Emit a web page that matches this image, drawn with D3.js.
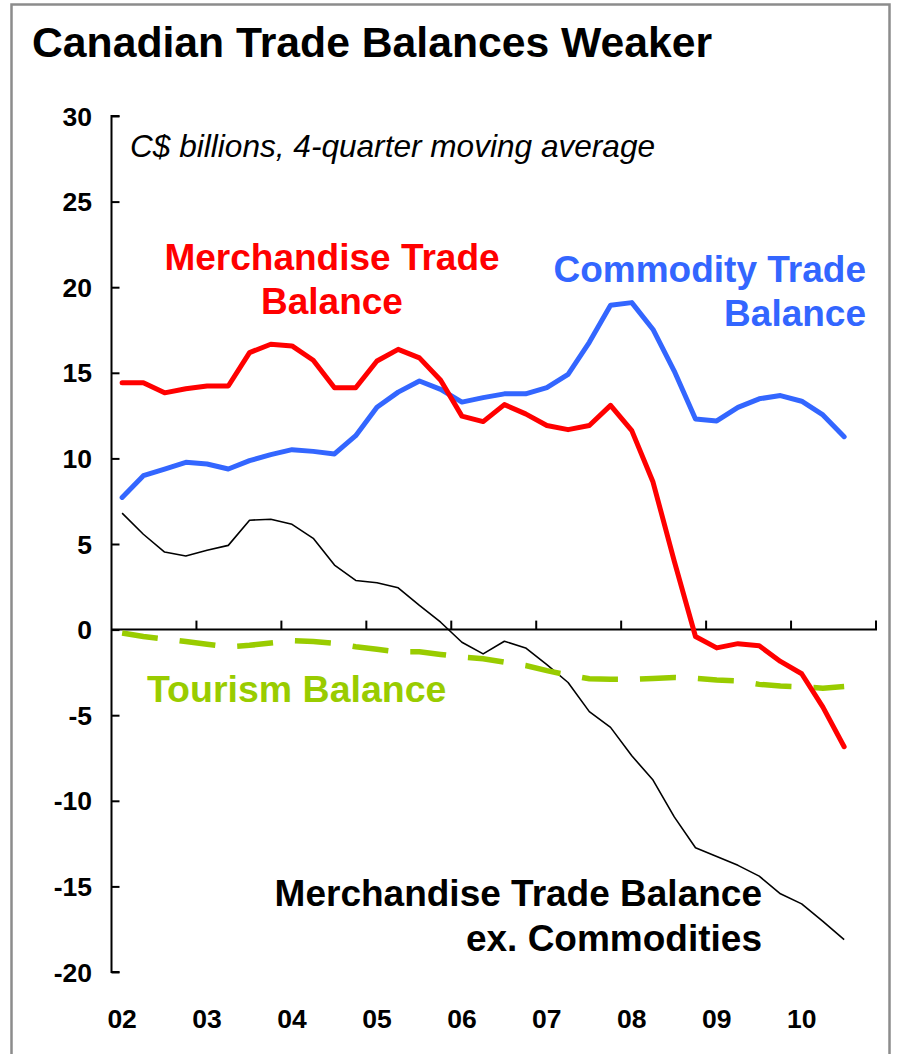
<!DOCTYPE html>
<html>
<head>
<meta charset="utf-8">
<script src="https://cdn.jsdelivr.net/npm/d3@7/dist/d3.min.js"></script>
<style>
  html, body { margin: 0; padding: 0; background: #fff; }
  svg { display: block; }
  text { font-family: "Liberation Sans", Arial, sans-serif; }
</style>
</head>
<body>
<svg id="chart" width="898" height="1054"></svg>
<script>
// ---- Data (C$ billions, 4-quarter moving average), quarterly 2002Q1 .. 2010Q3 ----
const years = ["02", "03", "04", "05", "06", "07", "08", "09", "10"];
const quarterNames = ["Q1", "Q2", "Q3", "Q4"];
const yTicks = [-20, -15, -10, -5, 0, 5, 10, 15, 20, 25, 30];

const merchandise = [14.42, 14.42, 13.83, 14.07, 14.23, 14.23, 16.18, 16.67, 16.57, 15.73,
  14.13, 14.13, 15.69, 16.37, 15.87, 14.56, 12.47, 12.15, 13.14, 12.6,
  11.92, 11.68, 11.92, 13.1, 11.62, 8.62, 4.0, -0.4, -1.07, -0.82,
  -0.94, -1.86, -2.58, -4.53, -6.84];
const commodity = [7.72, 8.99, 9.38, 9.77, 9.67, 9.38, 9.87, 10.22, 10.51, 10.41,
  10.26, 11.33, 12.99, 13.87, 14.52, 14.03, 13.29, 13.55, 13.77, 13.77,
  14.13, 14.91, 16.78, 18.95, 19.1, 17.53, 15.1, 12.3, 12.19, 12.98,
  13.48, 13.67, 13.34, 12.54, 11.27];
const exCommodities = [6.8, 5.57, 4.53, 4.3, 4.63, 4.92, 6.39, 6.45, 6.15, 5.33,
  3.77, 2.87, 2.74, 2.44, 1.41, 0.43, -0.74, -1.42, -0.68, -1.07,
  -2.05, -3.09, -4.79, -5.71, -7.37, -8.79, -10.94, -12.74, -13.25, -13.77,
  -14.4, -15.43, -16.02, -17.04, -18.11];
const tourism = [-0.2, -0.4, -0.55, -0.7, -0.85, -1.0, -0.92, -0.78, -0.65, -0.7,
  -0.8, -1.0, -1.15, -1.3, -1.3, -1.45, -1.6, -1.7, -1.9, -2.1,
  -2.4, -2.65, -2.87, -2.9, -2.9, -2.85, -2.8, -2.85, -2.95, -3.0,
  -3.2, -3.3, -3.35, -3.42, -3.32];

// categories: every quarter of the 9 years
const quarters = [];
years.forEach(y => quarterNames.forEach(q => quarters.push(y + q)));

// ---- Layout ----
const svg = d3.select("#chart");

const x = d3.scaleBand().domain(quarters).range([111.5, 876]).padding(0);
const y = d3.scaleLinear().domain([-20, 30]).range([972, 116]);
const cx = i => x(quarters[i]) + x.bandwidth() / 2;

// frame
svg.append("rect")
  .attr("x", 11.5).attr("y", 4.5).attr("width", 878).attr("height", 1070)
  .attr("fill", "none").attr("stroke", "#8c8c8c").attr("stroke-width", 2.5);

// title
svg.append("text")
  .attr("x", 32).attr("y", 57)
  .attr("font-size", 42.7).attr("font-weight", "bold").attr("fill", "#000")
  .text("Canadian Trade Balances Weaker");

// y axis
const yAxis = d3.axisRight(y).tickValues(yTicks).tickSize(8).tickFormat("");
const gy = svg.append("g").attr("transform", "translate(111.5,0)").call(yAxis);
gy.select(".domain").attr("stroke", "#000").attr("stroke-width", 2)
  .attr("d", `M8,${y(-20)}H0V${y(30)}H8`);
gy.selectAll(".tick line").attr("stroke", "#000").attr("stroke-width", 2);

// y tick labels
svg.append("g").selectAll("text").data(yTicks).join("text")
  .attr("x", 92).attr("y", d => y(d))
  .attr("dy", "0.36em")
  .attr("text-anchor", "end")
  .attr("font-size", 26.5).attr("font-weight", "bold")
  .text(d => d);

// x axis along zero line, ticks at year boundaries pointing up
const yearStarts = years.map(yy => yy + "Q1");
const xAxis = d3.axisTop(x)
  .tickValues(yearStarts.slice(1))
  .tickSize(9).tickSizeOuter(0).tickFormat("");
const gx = svg.append("g").attr("transform", `translate(0,${y(0)})`).call(xAxis);
gx.selectAll(".tick").attr("transform", d => `translate(${x(d)},0)`);
gx.select(".domain").attr("stroke", "#000").attr("stroke-width", 2)
  .attr("d", `M111.5,0H876V-9`);
gx.selectAll(".tick line").attr("stroke", "#000").attr("stroke-width", 2);

// x labels at bottom
svg.append("g").selectAll("text").data(years).join("text")
  .attr("x", d => x(d + "Q1") + x.bandwidth() / 2)
  .attr("y", 1028)
  .attr("text-anchor", "middle")
  .attr("font-size", 26.5).attr("font-weight", "bold")
  .text(d => d);

// lines
const line = d3.line().x((d, i) => cx(i)).y(d => y(d));

svg.append("path").datum(exCommodities)
  .attr("d", line).attr("fill", "none")
  .attr("stroke", "#000").attr("stroke-width", 1.6).attr("stroke-linejoin", "round");

svg.append("path").datum(tourism)
  .attr("d", line).attr("fill", "none")
  .attr("stroke", "#99CC00").attr("stroke-width", 5.5)
  .attr("stroke-dasharray", "36,22");

svg.append("path").datum(commodity)
  .attr("d", line).attr("fill", "none")
  .attr("stroke", "#3366FF").attr("stroke-width", 5)
  .attr("stroke-linejoin", "round").attr("stroke-linecap", "round");

svg.append("path").datum(merchandise)
  .attr("d", line).attr("fill", "none")
  .attr("stroke", "#FF0000").attr("stroke-width", 5)
  .attr("stroke-linejoin", "round").attr("stroke-linecap", "round");

// subtitle
svg.append("text")
  .attr("x", 130).attr("y", 157)
  .attr("font-size", 31.6).attr("font-style", "italic").attr("fill", "#000")
  .text("C$ billions, 4-quarter moving average");

// annotations
function label(lines, xPos, yPos, anchor, color, gap, size) {
  const t = svg.append("text")
    .attr("font-size", size).attr("font-weight", "bold")
    .attr("fill", color).attr("text-anchor", anchor);
  lines.forEach((s, i) => {
    t.append("tspan").attr("x", xPos).attr("y", yPos + i * gap).text(s);
  });
}
label(["Merchandise Trade", "Balance"], 332, 270, "middle", "#FF0000", 44, 37);
label(["Commodity Trade", "Balance"], 866, 282, "end", "#3366FF", 44, 37);
label(["Tourism Balance"], 147, 702, "start", "#99CC00", 44, 37.5);
label(["Merchandise Trade Balance", "ex. Commodities"], 762, 906, "end", "#000", 45, 37);
</script>
</body>
</html>
